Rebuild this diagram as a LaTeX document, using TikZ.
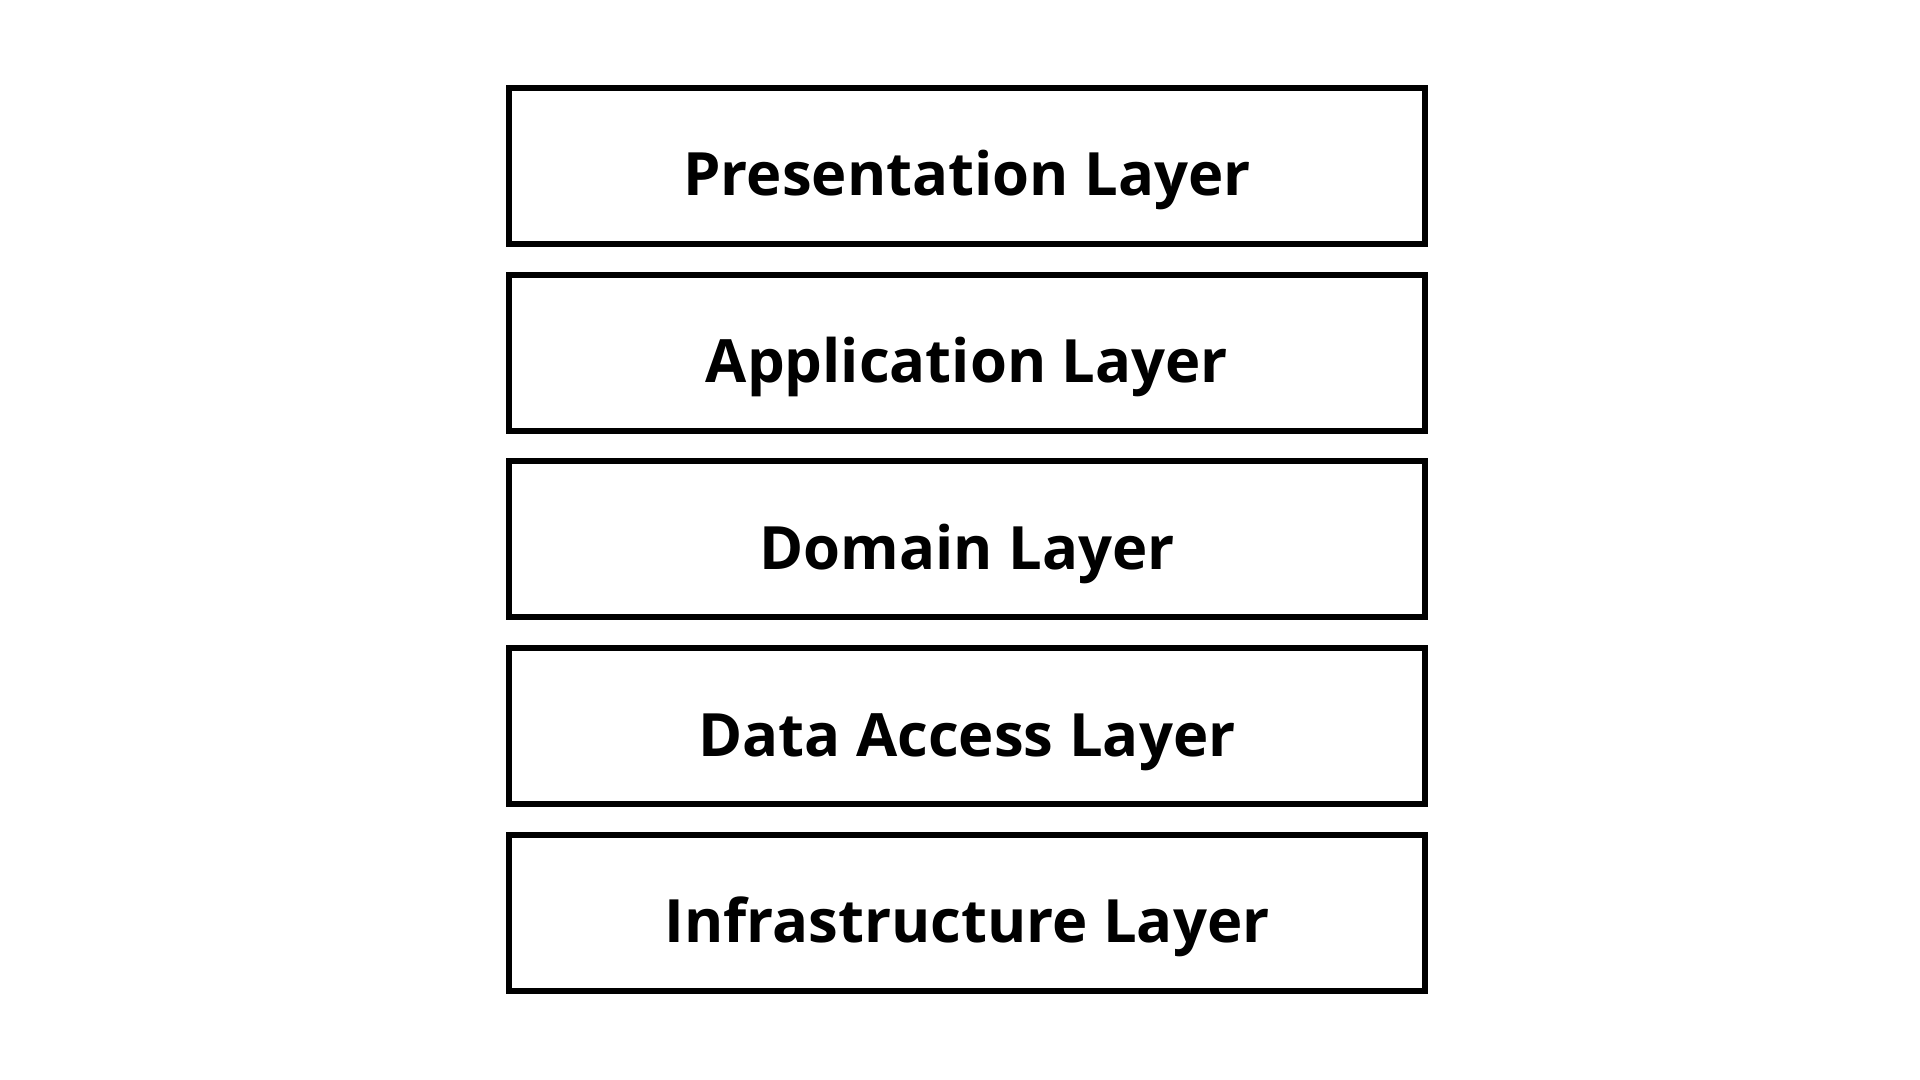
\documentclass[tikz,border=0pt]{standalone}
\usepackage{fontspec}
\setmainfont{Open Sans}
\usepackage{tikz}

\tikzset{
	layer/.style={rectangle, draw=black, line width=0.6mm, inner sep=0,
		minimum width=91.6mm, minimum height=15.6mm,
		text height=6mm, text depth=0mm,
		font=\fontsize{17}{20}\selectfont\bfseries}
}

\begin{document}
\begin{tikzpicture}[x=1mm,y=1mm]
\useasboundingbox (0,0) rectangle (192,108);
\foreach \y/\n/\t in {91.4/1/Presentation Layer,72.725/2/Application Layer,54.05/3/Domain Layer,35.375/4/Data Access Layer,16.7/5/Infrastructure Layer} {
	\node[layer] at(96.7, \y) (l\n) {\t};
};
\end{tikzpicture}
\end{document}
